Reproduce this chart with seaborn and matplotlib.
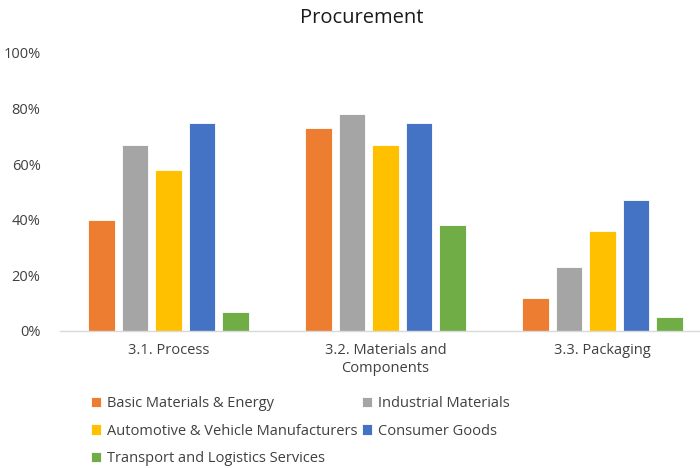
import pandas as pd
import numpy as np
import seaborn as sns
import matplotlib.pyplot as plt
from matplotlib.ticker import PercentFormatter

# data
categories = ['3.1. Process', '3.2. Materials and\nComponents', '3.3. Packaging']
sectors = ['Basic Materials & Energy', 'Industrial Materials',
           'Automotive & Vehicle Manufacturers', 'Consumer Goods',
           'Transport and Logistics Services']
basic_materials = [0.40, 0.73, 0.12]
industrial = [0.67, 0.78, 0.23]
automotive = [0.58, 0.67, 0.36]
consumer = [0.75, 0.75, 0.47]
transport = [0.07, 0.38, 0.05]
colors = ['#ED7D31', '#A5A5A5', '#FFC000', '#4472C4', '#70AD47']

rows = []
for sector, vals in zip(sectors, [basic_materials, industrial, automotive, consumer, transport]):
    for cat, v in zip(categories, vals):
        rows.append({'category': cat, 'sector': sector, 'value': v})
df = pd.DataFrame(rows)

sns.set_style('white')
plt.rcParams['font.family'] = ['Open Sans', 'DejaVu Sans']

fig = plt.figure(figsize=(7, 4.68), dpi=100)
ax = fig.add_axes([60 / 700, 137 / 468, 651 / 700, 278 / 468])

sns.barplot(data=df, x='category', y='value', hue='sector', hue_order=sectors,
            palette=colors, width=0.77, gap=0.2, ax=ax, saturation=1,
            edgecolor='white', linewidth=0.6)

ax.set_xlim(-0.5, 2.5)
ax.set_ylim(0, 1.0)
ax.set_yticks(np.arange(0, 1.01, 0.2))
ax.yaxis.set_major_formatter(PercentFormatter(1.0, decimals=0))
ax.set_xlabel('')
ax.set_ylabel('')
for s in ['top', 'right', 'left']:
    ax.spines[s].set_visible(False)
ax.spines['bottom'].set_color('#D9D9D9')
ax.spines['bottom'].set_linewidth(1)
ax.tick_params(axis='both', length=0, labelsize=10.5, colors='#404040')
ax.tick_params(axis='x', pad=9)
ax.tick_params(axis='y', pad=14)

fig.text(362 / 700, 1 - 18 / 468, 'Procurement', ha='center', va='center',
         fontsize=14.5, color='#1a1a1a')

handles, labels = ax.get_legend_handles_labels()
ax.legend_.remove()
order = [0, 2, 4, 1, 3]
fig.legend([handles[i] for i in order], [labels[i] for i in order],
           loc='upper left', bbox_to_anchor=(78 / 700, 1 - 383 / 468), ncol=2,
           frameon=False, fontsize=10.5, handlelength=0.7, handleheight=0.7,
           handletextpad=0.4, columnspacing=0.3, labelspacing=0.85,
           labelcolor='#404040')

fig.savefig('out.png', dpi=100)
